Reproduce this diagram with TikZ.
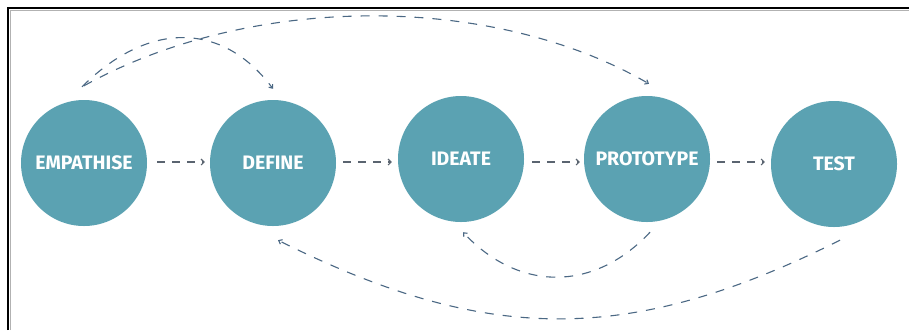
\documentclass[tikz,border=0pt]{standalone}
\usepackage{fontspec}
\setmainfont{Fira Sans}
\usetikzlibrary{arrows.meta}
\definecolor{stagefill}{HTML}{5BA2B2}
\definecolor{loopcol}{HTML}{4B6884}
\definecolor{flowcol}{HTML}{5A6470}
\begin{document}
\begin{tikzpicture}[x=1pt,y=-1pt,
  stage/.style={circle, fill=stagefill, minimum size=126pt, inner sep=0pt, text=white,
    font=\bfseries\fontsize{19.5}{19.5}\selectfont},
  flow/.style={draw=flowcol, line width=1.1pt, dash pattern=on 8pt off 7pt,
    -{Straight Barb[length=3pt,width=6pt]}},
  loopback/.style={draw=loopcol, line width=1.1pt, dash pattern=on 9pt off 9pt,
    -{Straight Barb[length=3pt,width=5pt]}}]
\useasboundingbox (0,0) rectangle (909,330);
\fill[white] (0,0) rectangle (909,330);
\draw[gray!60, line width=1pt] (10,330) -- (10,10) -- (909,10);
\draw[black, line width=2pt] (8,330) -- (8,8) -- (909,8);

\node[stage] (emp) at (84,163) {EMPATHISE};
\node[stage] (def) at (273,163) {DEFINE};
\node[stage] (ide) at (461,159) {IDEATE};
\node[stage] (pro) at (647,159) {PROTOTYPE};
\node[stage] (tst) at (834,164) {TEST};

\coordinate (row) at (0,162);
\draw[flow] ([xshift=10pt]emp.east |- row) -- ([xshift=-5pt]def.west |- row);
\draw[flow] ([xshift=7pt]def.east |- row) -- ([xshift=-6pt]ide.west |- row);
\draw[flow] ([xshift=8pt]ide.east |- row) -- ([xshift=-4pt]pro.west |- row);
\draw[flow] ([xshift=7pt]pro.east |- row) -- ([xshift=-6pt]tst.west |- row);

\draw[loopback] ([shift={(-2,-13)}]emp.north) .. controls (148,21) and (222,21) .. ([shift={(0,-11)}]def.north);
\draw[loopback] ([shift={(0,-14)}]emp.north) .. controls (251,-7) and (492,-7) .. ([shift={(2,-12)}]pro.north);
\draw[loopback] ([shift={(3,10)}]pro.south) .. controls (594,292) and (519,292) .. ([shift={(2,10)}]ide.south);
\draw[loopback] ([shift={(6,13)}]tst.south) .. controls (630,345) and (488,345) .. ([shift={(5,14)}]def.south);
\end{tikzpicture}
\end{document}
